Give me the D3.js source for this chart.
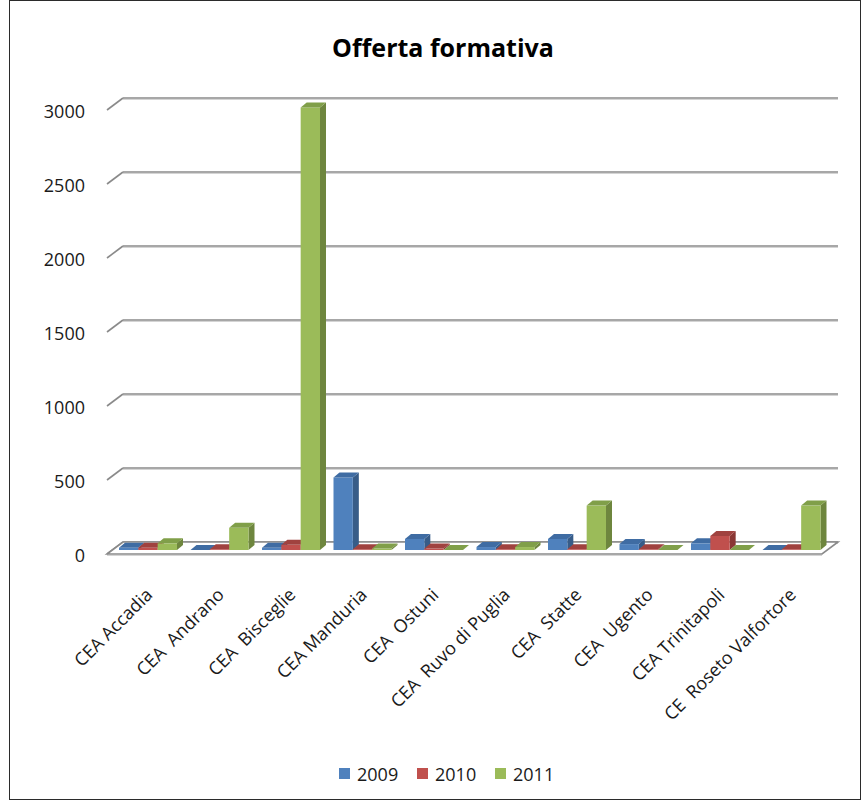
<!DOCTYPE html>
<html>
<head>
<meta charset="utf-8">
<script src="https://cdn.jsdelivr.net/npm/d3@7/dist/d3.min.js"></script>
<style>
  html, body { margin: 0; padding: 0; background: #fff; }
  svg { display: block; }
  text { font-family: "Open Sans", sans-serif; white-space: pre; }
</style>
</head>
<body>
<script>
// ---- data ----
const categories = ["CEA Accadia", "CEA  Andrano", "CEA  Bisceglie", "CEA Manduria", "CEA  Ostuni",
  "CEA  Ruvo di Puglia", "CEA  Statte", "CEA  Ugento", "CEA Trinitapoli", "CE  Roseto Valfortore"];
const seriesNames = ["2009", "2010", "2011"];
const values2009 = [15, 0, 15, 490, 75, 20, 75, 40, 45, 0];
const values2010 = [15, 5, 35, 5, 10, 5, 5, 5, 95, 5];
const values2011 = [45, 150, 2990, 10, 0, 20, 300, 0, 0, 300];
const yTicks = [0, 500, 1000, 1500, 2000, 2500, 3000];
const titleText = "Offerta formativa";

const seriesValues = [values2009, values2010, values2011];
const colors = {
  front: ["#4f81bd", "#c0504d", "#9bbb59"],
  side:  ["#375c88", "#8a3734", "#6e863e"],
  top:   ["#3f6ca3", "#a0423f", "#809f49"]
};

const W = 862, H = 802;
const svg = d3.select("body").append("svg").attr("width", W).attr("height", H);
svg.append("rect").attr("width", W).attr("height", H).attr("fill", "#fff");

// chart border
svg.append("rect").attr("x", 9.5).attr("y", 0.5).attr("width", 851).attr("height", 799)
  .attr("fill", "none").attr("stroke", "#2b2b2b").attr("stroke-width", 1);

// 3D geometry
const wallX0 = 123, wallX1 = 838;
const depth = { dx: -16, dy: 12 };
const y = d3.scaleLinear().domain([0, 3000]).range([542, 98]);

// title
svg.append("text").attr("x", 443).attr("y", 57).attr("text-anchor", "middle")
  .attr("font-size", 25).attr("font-weight", "bold").attr("fill", "#000").text(titleText);

// gridlines with left diagonals
const grid = svg.append("g");
yTicks.forEach(t => {
  const yy = y(t);
  grid.append("line").attr("x1", wallX0).attr("x2", wallX1).attr("y1", yy + 1.5).attr("y2", yy + 1.5)
    .attr("stroke", "#d4d4d4").attr("stroke-width", 1.2);
  grid.append("line").attr("x1", wallX0).attr("x2", wallX1).attr("y1", yy).attr("y2", yy)
    .attr("stroke", "#8a8a8a").attr("stroke-width", 1.6);
  grid.append("line").attr("x1", wallX0 + depth.dx).attr("y1", yy + depth.dy)
    .attr("x2", wallX0).attr("y2", yy).attr("stroke", "#8a8a8a").attr("stroke-width", 1.6);
  // label
  grid.append("text").attr("x", 85).attr("y", yy + 13).attr("text-anchor", "end")
    .attr("dominant-baseline", "central").attr("font-size", 18).attr("fill", "#1a1a1a")
    .text(t);
});

// floor
const floorPts = [[wallX0, y(0)], [wallX1, y(0)], [wallX1 + depth.dx, y(0) + depth.dy], [wallX0 + depth.dx, y(0) + depth.dy]];
svg.append("polygon").attr("points", floorPts.map(p => p.join(",")).join(" "))
  .attr("fill", "#fff").attr("stroke", "#8a8a8a").attr("stroke-width", 1.6);
svg.append("line").attr("x1", wallX0 + depth.dx).attr("x2", wallX1 + depth.dx)
  .attr("y1", y(0) + depth.dy + 1.5).attr("y2", y(0) + depth.dy + 1.5)
  .attr("stroke", "#d4d4d4").attr("stroke-width", 1.2);

// bars
const x = d3.scaleBand().domain(categories).range([115, 830]).paddingInner(0).paddingOuter(0);
const xs = d3.scaleBand().domain(seriesNames).range([4, 62]).padding(0);
const bw = xs.bandwidth();
const baseY = 550;
const bd = { dx: 6, dy: -5 };
const hOf = v => y(0) - y(v);

const bars = svg.append("g");
categories.forEach((c, i) => {
  seriesNames.forEach((s, j) => {
    const v = seriesValues[j][i];
    const h = hOf(v);
    const x0 = x(c) + xs(s);
    const x1 = x0 + bw;
    const top = baseY - h;
    // side
    bars.append("polygon").attr("points",
      [[x1, baseY], [x1 + bd.dx, baseY + bd.dy], [x1 + bd.dx, top + bd.dy], [x1, top]].map(p => p.join(",")).join(" "))
      .attr("fill", colors.side[j]);
    // front
    bars.append("rect").attr("x", x0).attr("y", top).attr("width", bw).attr("height", h)
      .attr("fill", colors.front[j]);
    // top
    bars.append("polygon").attr("points",
      [[x0, top], [x0 + bd.dx, top + bd.dy], [x1 + bd.dx, top + bd.dy], [x1, top]].map(p => p.join(",")).join(" "))
      .attr("fill", colors.top[j]);
  });
});

// category labels
const labels = svg.append("g");
categories.forEach(c => {
  const cx = x(c) + x.bandwidth() / 2 - 2;
  labels.append("text")
    .attr("transform", `translate(${cx},591) rotate(-45)`)
    .attr("text-anchor", "end").attr("dominant-baseline", "central")
    .attr("font-size", 18).attr("fill", "#1a1a1a").text(c);
});

// legend
const legend = svg.append("g");
const legX = [339, 417, 495];
seriesNames.forEach((s, j) => {
  legend.append("rect").attr("x", legX[j]).attr("y", 768).attr("width", 11).attr("height", 11)
    .attr("fill", colors.front[j]);
  legend.append("text").attr("x", legX[j] + 18).attr("y", 774).attr("dominant-baseline", "central")
    .attr("font-size", 18).attr("fill", "#1a1a1a").text(s);
});
</script>
</body>
</html>
